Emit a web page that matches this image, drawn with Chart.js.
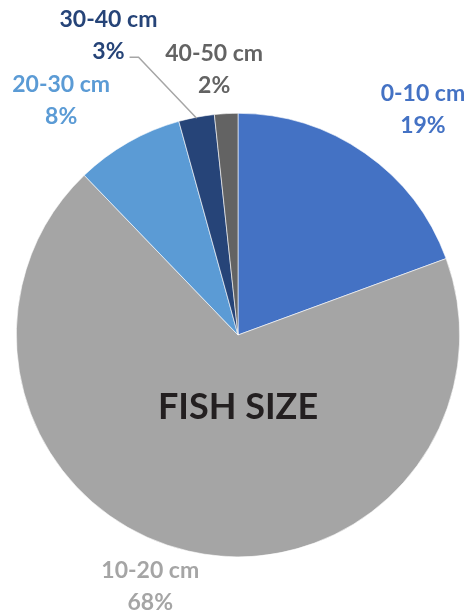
<!DOCTYPE html>
<html><head><meta charset="utf-8">
<script src="https://cdn.jsdelivr.net/npm/chart.js@4/dist/chart.umd.min.js"></script>
<style>html,body{margin:0;padding:0;background:#fff;}canvas{display:block;}</style>
</head><body>
<canvas id="c" width="468" height="615" style="width:468px;height:615px"></canvas>
<script>
const categories = ['0-10 cm', '10-20 cm', '20-30 cm', '30-40 cm', '40-50 cm'];
const shares = [19.4, 68.4, 7.9, 2.6, 1.7];
const sliceColors = ['#4472C4', '#A5A5A5', '#5B9BD5', '#264478', '#636363'];
const centerTitle = 'FISH SIZE';

// label placement nudges (px) relative to the arc's outer mid point
const labelNudges = [[58, -52], [-38, 27], [-67, -50], [-88, -90], [-12, -53]];

const labelPlugin = {
  id: 'pieLabels',
  afterDatasetsDraw(chart) {
    const ctx = chart.ctx;
    const meta = chart.getDatasetMeta(0);
    ctx.save();
    meta.data.forEach((arc, i) => {
      const p = arc.getProps(['x', 'y', 'startAngle', 'endAngle', 'outerRadius'], true);
      const mid = (p.startAngle + p.endAngle) / 2;
      const ex = p.x + Math.cos(mid) * p.outerRadius;
      const ey = p.y + Math.sin(mid) * p.outerRadius;
      const lx = ex + labelNudges[i][0];
      const ly = ey + labelNudges[i][1];
      ctx.font = 'bold 23px Lato';
      ctx.fillStyle = sliceColors[i];
      ctx.textAlign = 'center';
      ctx.textBaseline = 'alphabetic';
      const l1 = categories[i];
      const l2 = Math.round(shares[i]) + '%';
      ctx.fillText(l1, lx, ly);
      ctx.fillText(l2, lx, ly + 32);
      if (i === 3) {
        const w2 = ctx.measureText(l2).width;
        const sx = lx + w2 / 2 + 5;
        const sy = ly + 30;
        ctx.strokeStyle = '#A6A6A6';
        ctx.lineWidth = 1.5;
        ctx.beginPath();
        ctx.moveTo(sx, sy);
        ctx.lineTo(sx + 9, sy);
        ctx.lineTo(p.x + Math.cos(mid) * (p.outerRadius - 1), p.y + Math.sin(mid) * (p.outerRadius - 1));
        ctx.stroke();
      }
    });
    const cx = meta.data[0].x, cy = meta.data[0].y;
    ctx.font = 'bold 36px Lato';
    ctx.fillStyle = '#231F20';
    ctx.textAlign = 'center';
    ctx.textBaseline = 'alphabetic';
    ctx.fillText(centerTitle, cx, cy + 84);
    ctx.restore();
  }
};

new Chart(document.getElementById('c'), {
  type: 'pie',
  data: {
    labels: categories,
    datasets: [{
      data: shares,
      backgroundColor: sliceColors,
      borderColor: '#ffffff',
      borderWidth: 0.6
    }]
  },
  options: {
    responsive: false,
    animation: false,
    layout: { padding: { left: 16, right: 8, top: 113, bottom: 58 } },
    plugins: { legend: { display: false }, tooltip: { enabled: false } }
  },
  plugins: [labelPlugin]
});
</script>
</body></html>
